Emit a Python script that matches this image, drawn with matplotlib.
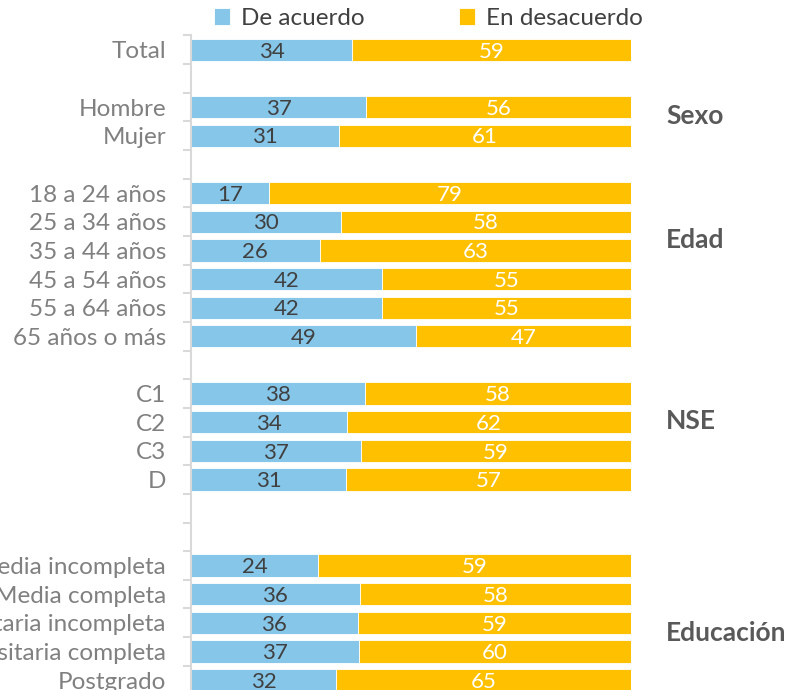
import numpy as np
import matplotlib
matplotlib.use('Agg')
from matplotlib import pyplot as plt

plt.rcParams['font.family'] = ['Lato', 'DejaVu Sans']

# data
categories = ['Total',
              'Hombre', 'Mujer',
              '18 a 24 años', '25 a 34 años', '35 a 44 años',
              '45 a 54 años', '55 a 64 años', '65 años o más',
              'C1', 'C2', 'C3', 'D',
              'Media incompleta', 'Media completa', 'Universitaria incompleta',
              'Universitaria completa', 'Postgrado']
de_acuerdo = [34, 37, 31, 17, 30, 26, 42, 42, 49, 38, 34, 37, 31, 24, 36, 36, 37, 32]
en_desacuerdo = [59, 56, 61, 79, 58, 63, 55, 55, 47, 58, 62, 59, 57, 59, 58, 59, 60, 65]

# group sizes and empty slots before each group
group_names = ['', 'Sexo', 'Edad', 'NSE', 'Educación']
group_sizes = [1, 2, 6, 4, 5]
gaps_before = [0, 1, 1, 1, 2]
group_label_y = [None, 2.3, 6.64, 12.96, 20.35]

blue = '#86C6E9'
yellow = '#FFC000'
grey = '#808080'
dark = '#404040'

# row positions
pos = []
y = 0
for size, gap in zip(group_sizes, gaps_before):
    y += gap
    for i in range(size):
        pos.append(y)
        y += 1
n_slots = y

agree = np.array(de_acuerdo, dtype=float)
disagree = np.array(en_desacuerdo, dtype=float)
tot = agree + disagree
a_frac = agree / tot
d_frac = disagree / tot

fig = plt.figure(figsize=(7.92, 6.9), dpi=100)
top = 1 - 35.5 / 690
h = n_slots * 28.65 / 690
ax = fig.add_axes([191 / 792, top - h, 440 / 792, h])

b1 = ax.barh(pos, a_frac, height=0.78, color=blue, edgecolor='white', linewidth=0.6, label='De acuerdo')
b2 = ax.barh(pos, d_frac, left=a_frac, height=0.78, color=yellow, edgecolor='white', linewidth=0.6, label='En desacuerdo')

for p, a, d, av, dv in zip(pos, a_frac, d_frac, de_acuerdo, en_desacuerdo):
    ax.text(a / 2, p + 0.06, str(av), ha='center', va='center', fontsize=16, color=dark)
    ax.text(a + d / 2, p + 0.06, str(dv), ha='center', va='center', fontsize=16, color='white')

ax.set_ylim(n_slots - 0.5, -0.5)
ax.set_xlim(0, 1)
ax.set_yticks(pos)
ax.set_yticklabels(categories, fontsize=17.5, color=grey)
ax.set_yticks(np.arange(-0.5, n_slots, 1), minor=True)
ax.tick_params(axis='y', which='major', length=0, pad=18)
ax.tick_params(axis='y', which='minor', length=6, width=1.5, color='#D9D9D9')
ax.set_xticks([])
for s in ['top', 'right', 'bottom']:
    ax.spines[s].set_visible(False)
ax.spines['left'].set_color('#D9D9D9')
ax.spines['left'].set_linewidth(1.5)

for name, gy in zip(group_names, group_label_y):
    if name:
        ax.text(1.08, gy, name, ha='left', va='center', fontsize=19,
                fontweight='bold', color='#595959', transform=ax.get_yaxis_transform())

fig.legend(handles=[b1, b2], loc='upper center', bbox_to_anchor=(0.541, 1.02), ncol=2,
           frameon=False, fontsize=17.5, labelcolor=dark, handlelength=0.65, handleheight=0.65,
           handletextpad=0.45, columnspacing=3.9)

fig.savefig('out.png', dpi=100)
